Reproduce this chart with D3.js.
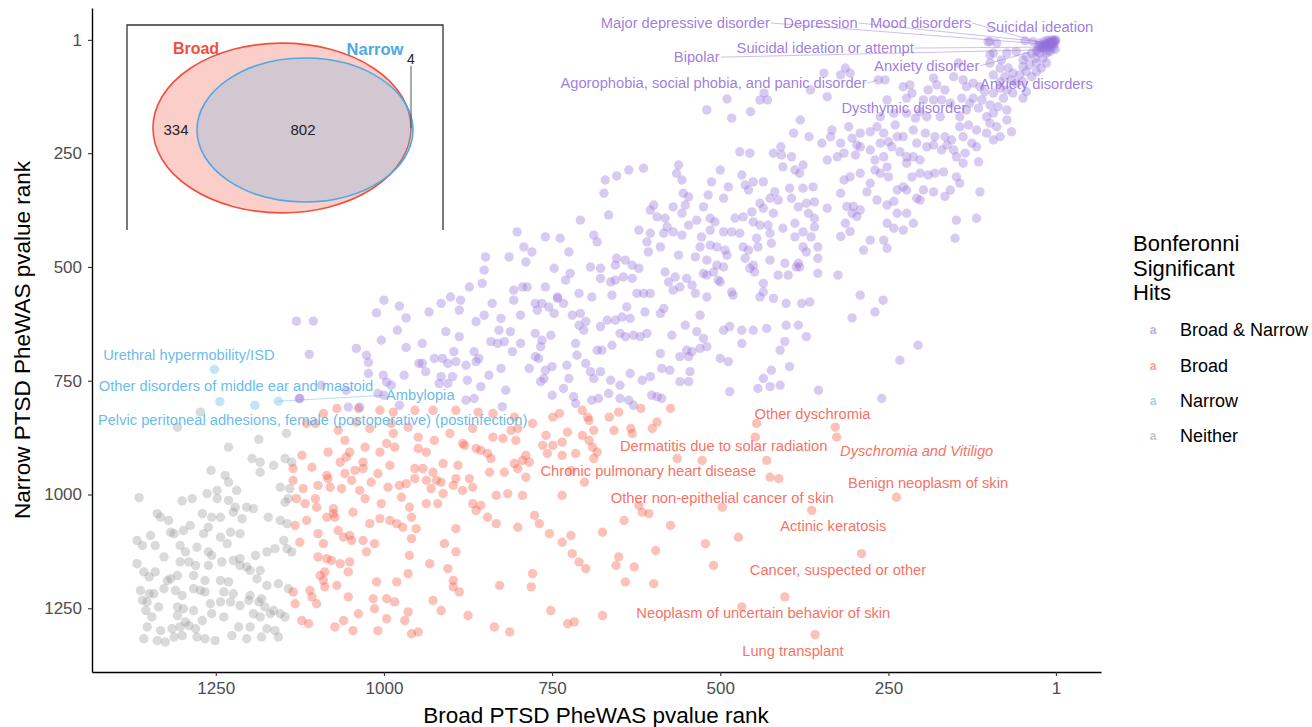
<!DOCTYPE html>
<html>
<head>
<meta charset="utf-8">
<script src="https://cdn.jsdelivr.net/npm/d3@7"></script>
<style>
  body { margin: 0; background: #fff; }
  svg text { font-family: "Liberation Sans", Arial, sans-serif; }
</style>
</head>
<body>
<svg width="1312" height="727"></svg>
<script>
// ---- data: [broad rank, narrow rank] ----
var bothPts = [
 [99,5],[89,8],[47,3],[35,5],[25,8],[18,4],[13,2],[8,1],[3,3],[15,12],[10,16],[5,19],[20,19],[28,23],[2,22],[37,30],[25,30],[15,30],[10,27],[45,38],[32,41],[20,41],[50,45],[60,27],[74,30],[82,45],[94,30],[99,34],[102,5],[84,63],[72,63],[65,74],[50,60],[40,56],[30,52],[45,71],[55,78],[67,89],[60,96],[50,93],[37,82],[30,71],[23,63],[15,52],[77,82],[84,93],[94,78],[99,52],[84,107],[74,111],[65,118],[50,129],[45,115],[79,129],[94,118],[107,115],[114,104],[124,96],[139,89],[134,104],[141,129],[124,129],[111,133],[99,144],[87,148],[74,155],[94,162],[104,170],[116,151],[129,140],[134,155],[144,170],[158,140],[171,133],[183,133],[191,111],[198,133],[203,159],[215,118],[223,129],[228,104],[218,100],[178,100],[183,85],[146,52],[153,82],[166,111],[173,170],[193,170],[210,173],[223,162],[242,162],[252,133],[262,170],[267,192],[257,206],[277,203],[292,206],[297,232],[304,217],[309,192],[321,228],[336,214],[334,199],[341,265],[326,258],[316,250],[299,254],[292,236],[277,243],[270,265],[257,258],[245,236],[233,247],[223,258],[213,258],[203,265],[193,236],[183,232],[171,243],[163,232],[149,258],[136,250],[126,228],[119,236],[116,269],[139,272],[153,243],[181,214],[166,214],[156,221],[144,192],[131,188],[119,199],[99,184],[89,192],[74,177],[67,203],[84,214],[94,221],[104,206],[139,214],[228,214],[240,188],[213,199],[195,206],[208,228],[237,214],[250,225],[262,228],[270,287],[250,302],[237,331],[228,324],[215,302],[203,294],[191,298],[181,294],[168,291],[149,302],[144,316],[158,331],[166,345],[183,335],[198,331],[208,349],[203,353],[223,331],[242,356],[252,364],[267,353],[282,335],[292,375],[302,367],[312,367],[304,382],[297,389],[252,404],[237,382],[223,382],[213,404],[228,419],[242,415],[257,441],[252,459],[277,441],[307,422],[314,404],[321,433],[287,463],[151,437],[149,397],[119,393],[114,335],[341,371],[321,338],[316,309],[307,302],[292,294],[277,316],[262,294],[223,272],[252,280],
 [381,177],[391,206],[410,236],[430,133],[435,118],[346,74],[321,78],[314,63],[307,74],[341,126],[366,111],[368,214],[349,228],[265,89],[255,89],
 [490,131],[441,133],[520,155],[483,173],[455,159],
 [471,247],[456,250],[421,250],[409,254],[394,258],[562,276],[407,280],[377,276],[389,287],[614,283],[636,287],[654,300],[671,309],[565,294],[500,287],[382,294],[468,298],[451,313],[436,313],[557,309],[463,320],[513,313],[488,324],[673,338],[555,338],[547,346],[518,342],[495,349],[458,331],[419,335],[397,327],[377,327],[362,324],[414,353],[394,349],[426,349],[372,360],[384,368],[360,357],[441,360],[436,371],[369,382],[360,393],[421,382],[453,379],[599,364],[570,368],[552,364],[525,368],[604,375],[594,390],[582,393],[557,382],[666,386],[708,397],[451,401],[441,408],[429,408],[515,393],[508,401],[547,408],[535,397],[478,393],[466,390],[407,415],[389,404],[377,423],[360,412],[579,412],[584,426],[609,445],[621,419],[604,426],[570,423],[557,430],[528,434],[515,419],[495,423],[483,423],[471,426],[446,437],[426,426],[424,448],[389,434],[365,434],[802,423],[760,434],[738,437],[688,430],[683,445],[792,456],[780,467],[725,467],[789,489],[589,456],[607,467],[562,474],[530,456],[515,452],[505,456],[493,463],[466,456],[458,463],[444,456],[377,456],[372,467],[355,456],[355,481],[382,500],[849,478],[814,478],[851,507],[747,503],[723,514],[693,500],[678,503],[656,496],[654,481],[641,485],[631,496],[621,503],[537,478],[520,485],[505,496],[490,474],[463,481],[451,496],[426,485],[404,492],[384,492],[355,514],[873,544],[854,536],[807,551],[794,544],[787,544],[760,544],[742,566],[730,529],[710,558],[691,566],[678,525],[663,533],[661,562],[656,529],[644,522],[631,525],[624,558],[614,558],[604,558],[582,511],[577,533],[567,522],[570,551],[560,544],[550,525],[542,540],[537,558],[525,514],[520,518],[510,511],[503,529],[495,500],[483,555],[481,562],[456,503],[449,511],[436,536],[436,555],[414,518],[399,518],[387,500],[367,577],[379,580],[402,580],[421,569],[441,566],[520,566],[500,533],[915,580],[901,566],[886,573],[888,595],[933,599],[863,620],[851,606],[839,580],[826,613],[807,573],[797,606],[775,580],[772,595],[765,580],[755,588],[747,602],[742,569],[733,580],[720,606],[708,602],[700,620],[710,628],[703,639],[678,631],[668,617],[656,617],[646,610],[634,613],[639,588],[612,599],[589,602],[584,591],[552,628],[530,606],[495,639],[486,631],[468,639],[451,639],[431,635],[402,628],[384,628],[372,653],[404,664],[411,683],[424,727],[397,719],[908,642],[888,653],[943,668],[896,686],[866,686],[859,701],[841,664],[829,639],[831,668],[821,664],[812,642],[809,686],[797,668],[775,646],[765,661],[752,650],[767,675],[775,697],[770,701],[715,668],[713,694],[700,712],[683,683],[676,683],[661,672],[649,646],[641,653],[629,650],[619,653],[609,646],[589,690],[572,650],[550,683],[542,686],[535,642],[530,679],[525,657],[520,675],[560,697],[547,697],[500,701],[488,708],[468,668],[925,701],[913,701],[905,712],[893,708],[878,716],[863,708],[943,712],[938,730],[915,741],[905,756],[898,741],[876,749],[856,763],[844,738],[826,723],[819,771],[784,723],[760,727],[750,719],[728,716],[725,745],[762,745],[767,752],[750,782],[733,767],[718,785],[715,800],[693,730],[688,745],[678,730],[663,749],[649,760],[649,789],[634,734],[616,749],[604,741],[629,804],[636,793],[666,778],[691,793],[681,789],[602,782],[594,785],[587,789],[587,723],[575,727],[560,752],[547,752],[545,730],[486,774],[444,767],[436,745],[426,763],[411,760],[918,756],[878,793],[866,789],[824,807],
 [1125,789],[1056,771],[1009,778],[977,804],[1053,808],[1036,808],[996,753],[354,771],[260,789],
 [1111,692],[1041,679],[1026,694],[1023,710],[1023,734],[1001,738],[970,738],[967,677],[948,712],[989,760],[1000,782],[1126,789],[1093,760],
 [1130,619],[1105,619],[1000,573],[977,586],[1011,601],[967,612],[980,639],[1004,661],[233,705],[206,672],[270,599],[258,573],[304,612],[292,562],[325,518],
 [1,1],[4,2],[6,4],[9,6],[4,9],[12,7],[6,13],[11,11],[16,9],[14,14],[2,6],[8,10],[19,15],[22,12],[17,20],[24,18],[27,15],[12,24],[30,26]
];

var broadPts = [
 [1070,811],[1038,811],[1006,815],[986,819],[954,815],[927,815],[893,815],[860,819],[838,822],[806,830],[779,844],[749,830],[739,822],
 [1090,822],[1115,844],[1102,844],[1068,859],[1058,881],[1041,841],[1021,855],[989,844],[986,866],[964,852],[949,874],[925,881],[902,866],[883,888],[868,855],[856,903],[838,874],[823,877],[811,859],[801,855],[804,881],[759,870],[764,892],[749,892],
 [1083,907],[1122,914],[1065,929],[1051,907],[1056,918],[1028,896],[1031,929],[1006,907],[996,888],[984,896],[949,899],[937,907],[912,932],[890,936],[880,892],[863,899],[846,910],[841,921],[806,932],[794,925],[789,914],[801,943],[784,929],[757,910],
 [1135,943],[1107,940],[1085,958],[1058,954],[1043,947],[1031,943],[1009,954],[991,936],[954,943],[942,943],[927,951],[915,973],[893,965],[873,965],[843,951],[821,951],[789,962],
 [1135,969],[1120,987],[1098,980],[1083,965],[1080,984],[1063,987],[1048,969],[1036,991],[1019,973],[994,984],[977,980],[967,976],[954,965],[937,969],[930,987],[922,969],[912,998],[897,980],[883,991],[868,984],[833,1002],[816,998],[794,1002],
 [1130,1009],[1117,1020],[1102,1009],[1100,1028],[1075,1031],[1075,1042],[1073,1050],[1085,1050],[1046,1039],[1028,1009],[1004,1020],[974,1006],[962,1028],[937,1020],[920,1020],[868,1020],[856,1024],[863,1035],
 [1132,1068],[1115,1057],[1098,1086],[1090,1108],[1068,1079],[1060,1094],[1051,1090],[1048,1101],[1031,1101],[1021,1064],[1006,1053],[991,1057],[981,1064],[972,1072],[959,1050],[952,1075],[959,1097],[893,1075],[846,1050],[833,1064],[801,1072],[776,1046],[769,1064],[754,1086],
 [1125,1105],[1098,1137],[1085,1141],[1078,1145],[1065,1152],[1051,1148],[1053,1170],[1026,1126],[1014,1108],[962,1134],[932,1152],[910,1108],[893,1126],[905,1163],
 [1088,1170],[1095,1178],[1090,1189],[1070,1200],[1088,1203],[1011,1192],[981,1192],[964,1174],[897,1189],[897,1203],[888,1214],[828,1200],[781,1203],[779,1174],
 [1135,1214],[1132,1240],[1110,1211],[1107,1225],[1100,1240],[1053,1225],[1016,1229],[1014,1251],[996,1229],[984,1236],[927,1233],[915,1255],[875,1266],[752,1255],
 [1122,1277],[1112,1284],[1073,1291],[1060,1277],[1046,1299],[1038,1262],[1009,1299],[996,1273],[969,1277],[964,1258],[959,1306],[949,1302],[836,1291],[813,1302],
 [705,815],[697,830],[695,837],[665,830],[651,819],[618,811],[574,811],[727,863],[705,870],[695,881],[688,859],[658,859],[633,855],[631,866],[601,855],[594,841],[735,885],[690,896],[683,907],[715,910],[735,914],[688,921],[722,947],[702,973],[735,1002],[564,921],[527,925],[446,844],[448,874],[431,925],[426,962],[413,965],[329,852],[327,874],[238,1006],[497,1028],[621,1024],[616,1039],[606,1042],[643,1057],[574,1068],[364,1035],[675,1083],[722,1090],[735,1105],[522,1108],[473,1094],[596,1123],[720,1130],[710,1148],[700,1163],[651,1137],[655,1156],[628,1159],[510,1156],[290,1130],[641,1192],[599,1196],[404,1225],[468,1247],[675,1266],[727,1284],[717,1280],[359,1308]
];

var narrowPts = [[1252,725],[1244,796],[1192,804],[1157,795]];

var neitherPts = [
 [1273,819],[1307,852],[1231,896],[1186,879],[1145,866],[1196,921],[1184,929],[1164,936],[1147,921],[1137,929],[1184,951],[1257,947],[1236,958],[1231,973],[1154,984],[1140,987],[1142,1009],[1147,1017],[1364,1007],[1300,1014],[1285,1009],[1263,998],[1248,991],[1248,1009],[1219,991],[1231,1013],[1221,1028],[1204,1028],[1194,1031],[1224,1039],[1337,1042],[1332,1050],[1320,1057],[1270,1042],[1256,1050],[1243,1050],[1211,1053],[1172,1050],[1154,1057],[1144,1064],[1347,1090],[1367,1101],[1359,1112],[1340,1112],[1317,1083],[1312,1086],[1298,1079],[1288,1068],[1268,1086],[1261,1072],[1243,1094],[1228,1083],[1214,1086],[1233,1108],[1303,1112],[1295,1126],[1278,1116],[1261,1126],[1256,1134],[1241,1148],[1224,1145],[1214,1141],[1191,1134],[1174,1126],[1162,1119],[1144,1119],[1137,1126],[1149,1101],[1367,1152],[1327,1137],[1303,1148],[1290,1148],[1280,1156],[1261,1156],[1214,1156],[1204,1159],[1199,1167],[1184,1167],[1357,1170],[1349,1181],[1340,1170],[1322,1189],[1317,1185],[1307,1178],[1283,1178],[1266,1189],[1243,1189],[1231,1192],[1189,1185],[1174,1200],[1157,1196],[1142,1207],[1362,1211],[1349,1218],[1342,1218],[1327,1207],[1310,1211],[1300,1222],[1283,1207],[1273,1211],[1266,1214],[1238,1214],[1224,1218],[1199,1222],[1182,1229],[1359,1233],[1352,1236],[1335,1247],[1307,1247],[1298,1251],[1283,1255],[1258,1240],[1243,1236],[1228,1236],[1214,1244],[1201,1233],[1186,1236],[1177,1247],[1164,1255],[1154,1262],[1147,1269],[1354,1255],[1345,1269],[1307,1266],[1295,1280],[1270,1277],[1256,1262],[1238,1269],[1194,1262],[1184,1269],[1169,1262],[1352,1291],[1332,1299],[1315,1295],[1303,1291],[1290,1288],[1280,1295],[1216,1291],[1199,1291],[1174,1295],[1162,1299],[1357,1317],[1337,1321],[1325,1324],[1312,1313],[1300,1310],[1278,1313],[1266,1317],[1251,1321],[1226,1310],[1204,1317],[1182,1313],[1157,1313]
];

var groups = ["Broad & Narrow", "Broad", "Narrow", "Neither"];
var groupColors = ["#9370DB", "#F8553F", "#56B4E9", "#999999"];
var labelColors = ["#9370DB", "#F8604F", "#56B4E9", "#999999"];

var xTicks = [1250, 1000, 750, 500, 250, 1];
var yTicks = [1, 250, 500, 750, 1000, 1250];

// labelled phenotypes: text, label position (ranks), point it refers to (ranks), draw segment
var purpleLabels = ["Major depressive disorder", "Depression", "Mood disorders", "Suicidal ideation",
  "Suicidal ideation or attempt", "Bipolar", "Anxiety disorder",
  "Agorophobia, social phobia, and panic disorder", "Anxiety disorders", "Dysthymic disorder"];
var purpleLabelX = [552, 351, 202, 25, 344, 535, 193, 510, 30, 227];
var purpleLabelY = [-36, -36, -36, -28, 19, 39, 58, 96, 98, 151];
var purplePtX = [21, 18, 13, 10, 22, 25, 40, 266, 33, 132];
var purplePtY = [10, 6, 12, 1, 17, 23, 28, 89, 72, 144];
var purpleSeg = [1, 1, 1, 0, 1, 1, 1, 1, 0, 0];

var redLabels = ["Other dyschromia", "Dermatitis due to solar radiation", "Dyschromia and Vitiligo",
  "Chronic pulmonary heart disease", "Benign neoplasm of skin", "Other non-epithelial cancer of skin",
  "Actinic keratosis", "Cancer, suspected or other", "Neoplasm of uncertain behavior of skin", "Lung transplant"];
var redLabelX = [363, 495, 208, 607, 191, 497, 332, 325, 436, 392];
var redLabelY = [822, 894, 905, 949, 974, 1007, 1068, 1165, 1260, 1343];

var blueLabels = ["Urethral hypermobility/ISD", "Other disorders of middle ear and mastoid", "Ambylopia",
  "Pelvic peritoneal adhesions, female (postoperative) (postinfection)"];
var blueLabelX = [1290, 1220, 946, 1106];
var blueLabelY = [694, 762, 782, 837];
var bluePtX = [1252, 1244, 1157, 1192];
var bluePtY = [725, 796, 795, 804];
var blueSeg = [0, 0, 1, 0];

// venn inset
var vennNames = ["Broad", "Narrow"];
var vennCounts = [334, 802, 4]; // broad only, both, narrow only

// ---- drawing ----
var svg = d3.select("svg");
var x = d3.scaleLinear().domain([1434, -66]).range([92, 1101]);
var y = d3.scaleLinear().domain([-69, 1390]).range([8, 672]);

var plot = svg.append("g");

function drawPts(pts, gi) {
  plot.append("g").selectAll("circle")
    .data(pts).enter().append("circle")
    .attr("cx", function(d) { return x(d[0]); })
    .attr("cy", function(d) { return y(d[1]); })
    .attr("r", 4.7)
    .attr("fill", groupColors[gi])
    .attr("fill-opacity", 0.36);
}
drawPts(neitherPts, 3);
drawPts(broadPts, 1);
drawPts(narrowPts, 2);
drawPts(bothPts, 0);

// labels
function drawLabels(texts, lx, ly, color, px, py, seg, italicIdx) {
  var g = plot.append("g");
  texts.forEach(function(t, i) {
    var tx = g.append("text")
      .attr("x", x(lx[i])).attr("y", y(ly[i]))
      .attr("dy", "0.35em")
      .attr("text-anchor", "middle")
      .attr("font-size", "14.7px")
      .attr("fill", color)
      .attr("fill-opacity", 0.9)
      .style("font-style", i === italicIdx ? "italic" : "normal")
      .text(t);
    if (seg && seg[i]) {
      var w = tx.node().getComputedTextLength();
      var cx = x(lx[i]), cy = y(ly[i]);
      var tx2 = x(px[i]), ty2 = y(py[i]);
      var sx = tx2 > cx ? cx + w / 2 + 1 : cx - w / 2 - 1;
      g.insert("line", "text")
        .attr("x1", sx).attr("y1", cy)
        .attr("x2", tx2).attr("y2", ty2)
        .attr("stroke", color).attr("stroke-opacity", 0.45)
        .attr("stroke-width", 1);
    }
  });
}
drawLabels(purpleLabels, purpleLabelX, purpleLabelY, labelColors[0], purplePtX, purplePtY, purpleSeg, -1);
drawLabels(redLabels, redLabelX, redLabelY, labelColors[1], null, null, null, 2);
drawLabels(blueLabels, blueLabelX, blueLabelY, labelColors[2], bluePtX, bluePtY, blueSeg, -1);

// axes
var fmt = d3.format("d");
var xAxis = svg.append("g").attr("transform", "translate(0,672)")
  .call(d3.axisBottom(x).tickValues(xTicks).tickFormat(fmt).tickSize(4).tickSizeOuter(0).tickPadding(6));
var yAxis = svg.append("g").attr("transform", "translate(92,0)")
  .call(d3.axisLeft(y).tickValues(yTicks).tickFormat(fmt).tickSize(4).tickSizeOuter(0).tickPadding(6));
[xAxis, yAxis].forEach(function(a) {
  a.select(".domain").attr("stroke", "#000").attr("stroke-width", 1.4);
  a.selectAll(".tick line").attr("stroke", "#333").attr("stroke-width", 1.1);
  a.selectAll(".tick text").attr("fill", "#4d4d4d").attr("font-size", "17px")
    .attr("font-family", "Liberation Sans, Arial, sans-serif");
});

svg.append("text").attr("x", 596).attr("y", 723).attr("text-anchor", "middle")
  .attr("font-size", "22.5px").attr("fill", "#000").text("Broad PTSD PheWAS pvalue rank");
svg.append("text").attr("transform", "translate(30,340) rotate(-90)").attr("text-anchor", "middle")
  .attr("font-size", "22.5px").attr("fill", "#000").text("Narrow PTSD PheWAS pvalue rank");

// legend
var leg = svg.append("g").attr("transform", "translate(1133,0)");
["Bonferonni", "Significant", "Hits"].forEach(function(t, i) {
  leg.append("text").attr("x", 0).attr("y", 251 + i * 24.5)
    .attr("font-size", "22px").attr("fill", "#000").text(t);
});
groups.forEach(function(gname, i) {
  var cy = 330 + i * 35.3;
  leg.append("text").attr("x", 20).attr("y", cy).attr("dy", "0.35em")
    .attr("text-anchor", "middle").attr("font-size", "12px").attr("font-weight", "bold")
    .attr("fill", groupColors[i]).attr("fill-opacity", 0.6).text("a");
  leg.append("text").attr("x", 47).attr("y", cy).attr("dy", "0.35em")
    .attr("font-size", "18px").attr("fill", "#000").text(gname);
});

// venn inset
var venn = svg.append("g");
venn.append("path").attr("d", "M127,230V25H443V230")
  .attr("fill", "none").attr("stroke", "#333").attr("stroke-width", 1.3);
var areaPerItem = 30.3;
var broadTotal = vennCounts[0] + vennCounts[1];
var narrowTotal = vennCounts[1] + vennCounts[2];
function ellipseR(n, aspect) {
  var prod = n * areaPerItem / Math.PI;
  return [Math.sqrt(prod * aspect), Math.sqrt(prod / aspect)];
}
var bR = ellipseR(broadTotal, 1.52), nR = ellipseR(narrowTotal, 1.5);
var bC = [282, 128], nC = [305, 130];
venn.append("ellipse").attr("cx", bC[0]).attr("cy", bC[1]).attr("rx", bR[0]).attr("ry", bR[1])
  .attr("fill", "#F8766D").attr("fill-opacity", 0.36)
  .attr("stroke", "#F0503C").attr("stroke-width", 1.6);
venn.append("ellipse").attr("cx", nC[0]).attr("cy", nC[1]).attr("rx", nR[0]).attr("ry", nR[1])
  .attr("fill", "#56B4E9").attr("fill-opacity", 0.25)
  .attr("stroke", "#4DAAE3").attr("stroke-width", 1.6);
var serif = "Liberation Serif, Times New Roman, serif";
venn.append("text").attr("x", 196).attr("y", 54).attr("text-anchor", "middle")
  .attr("font-family", serif).attr("font-weight", "bold").attr("font-size", "16px")
  .attr("fill", "#F0503C").text(vennNames[0]);
venn.append("text").attr("x", 375).attr("y", 55).attr("text-anchor", "middle")
  .attr("font-family", serif).attr("font-weight", "bold").attr("font-size", "16.5px")
  .attr("fill", "#4DAAE3").text(vennNames[1]);
venn.append("text").attr("x", 176).attr("y", 135).attr("text-anchor", "middle")
  .attr("font-family", serif).attr("font-size", "15px").attr("fill", "#222").text(vennCounts[0]);
venn.append("text").attr("x", 303).attr("y", 135).attr("text-anchor", "middle")
  .attr("font-family", serif).attr("font-size", "15px").attr("fill", "#222").text(vennCounts[1]);
venn.append("text").attr("x", 411).attr("y", 64).attr("text-anchor", "middle")
  .attr("font-family", serif).attr("font-size", "14px").attr("fill", "#222").text(vennCounts[2]);
venn.append("line").attr("x1", 411).attr("y1", 66).attr("x2", 411).attr("y2", bC[1])
  .attr("stroke", "#555").attr("stroke-width", 1);
</script>
</body>
</html>
